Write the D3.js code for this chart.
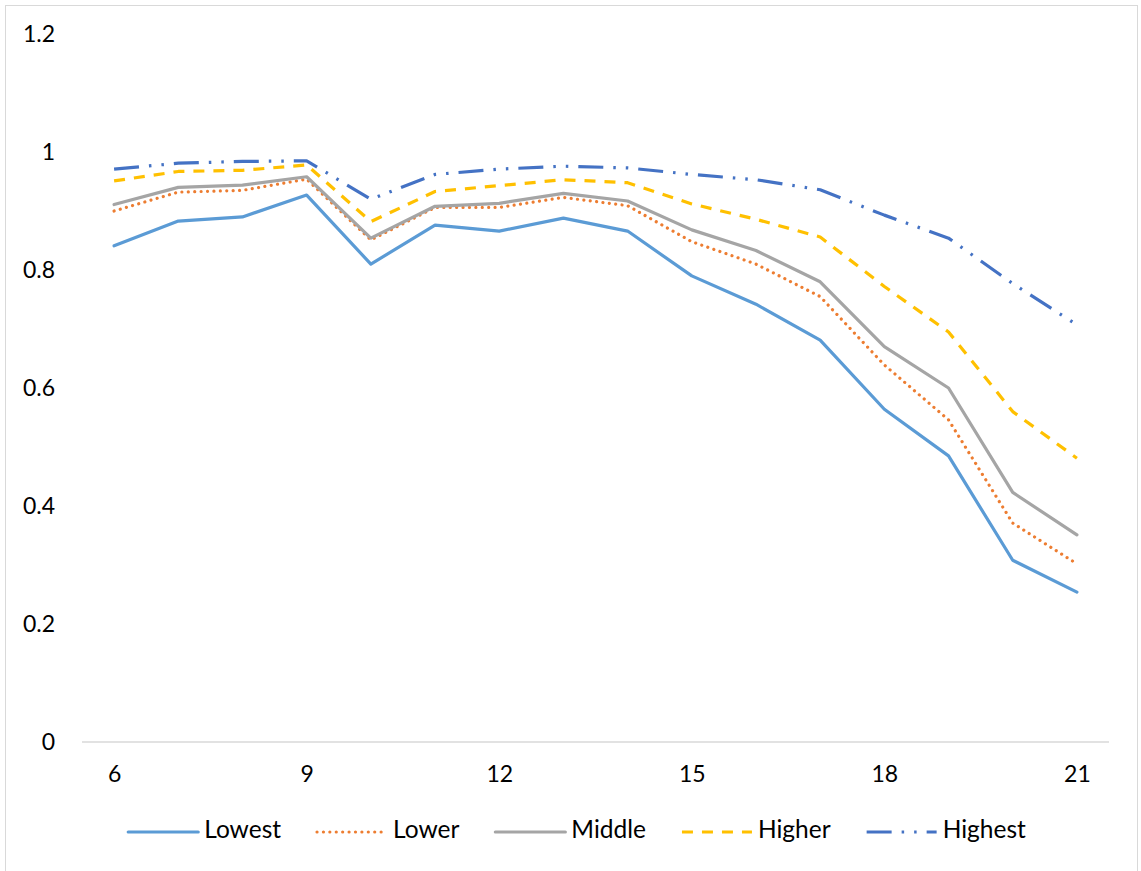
<!DOCTYPE html>
<html>
<head>
<meta charset="utf-8">
<script src="https://cdn.jsdelivr.net/npm/d3@7"></script>
<style>
  html, body { margin: 0; padding: 0; background: #fff; }
  svg { display: block; }
  text { font-family: Lato, "Open Sans", sans-serif; fill: #000; }
</style>
</head>
<body>
<svg id="chart" width="1141" height="871"></svg>
<script>
const ages = [6, 7, 8, 9, 10, 11, 12, 13, 14, 15, 16, 17, 18, 19, 20, 21];
const xTickLabels = [6, 9, 12, 15, 18, 21];
const yTickValues = [0, 0.2, 0.4, 0.6, 0.8, 1, 1.2];

const seriesNames = ["Lowest", "Lower", "Middle", "Higher", "Highest"];
const lowest  = [0.841, 0.883, 0.890, 0.927, 0.810, 0.876, 0.866, 0.888, 0.866, 0.790, 0.742, 0.681, 0.564, 0.485, 0.308, 0.254];
const lower   = [0.900, 0.932, 0.935, 0.954, 0.851, 0.906, 0.906, 0.923, 0.909, 0.848, 0.810, 0.755, 0.639, 0.546, 0.371, 0.302];
const middle  = [0.911, 0.940, 0.944, 0.958, 0.854, 0.908, 0.913, 0.930, 0.917, 0.868, 0.833, 0.780, 0.670, 0.600, 0.423, 0.351];
const higher  = [0.951, 0.967, 0.969, 0.978, 0.882, 0.933, 0.943, 0.953, 0.948, 0.912, 0.886, 0.856, 0.772, 0.695, 0.560, 0.481];
const highest = [0.971, 0.981, 0.984, 0.985, 0.920, 0.962, 0.971, 0.976, 0.973, 0.962, 0.953, 0.936, 0.893, 0.854, 0.777, 0.707];

const seriesValues = [lowest, lower, middle, higher, highest];
const styles = [
  { color: "#5B9BD5", dash: null, cap: "round" },
  { color: "#ED7D31", dash: "0.01 6.4", cap: "round" },
  { color: "#A5A5A5", dash: null, cap: "round" },
  { color: "#FFC000", dash: "11 9", cap: "butt" },
  { color: "#4472C4", dash: "25 10 2.5 10 2.5 10", cap: "butt" }
];

const svg = d3.select("#chart");

// chart border
svg.append("rect")
  .attr("x", 5.5).attr("y", 5.5)
  .attr("width", 1132).attr("height", 880)
  .attr("fill", "#fff").attr("stroke", "#d9d9d9").attr("stroke-width", 1);

const x = d3.scalePoint().domain(ages).range([82, 1109]).padding(0.5);
const y = d3.scaleLinear().domain([0, 1.2]).range([742, 34]);

// y axis labels (no line)
const yAxis = d3.axisLeft(y).tickValues(yTickValues).tickSize(0).tickPadding(0)
  .tickFormat(d => d3.format("~g")(d));
const gy = svg.append("g").attr("transform", "translate(55,0)").call(yAxis);
gy.select(".domain").remove();
gy.selectAll("text").attr("font-size", 23).attr("font-family", "Lato, sans-serif").attr("fill", "#000");

// x axis
const xAxis = d3.axisBottom(x).tickValues(xTickLabels).tickSize(0).tickPadding(0);
const gx = svg.append("g").attr("transform", "translate(0,742)").call(xAxis);
gx.select(".domain").remove();
gx.selectAll("text").attr("dy", null).attr("y", 34).attr("dominant-baseline", "middle")
  .attr("font-size", 23).attr("font-family", "Lato, sans-serif").attr("fill", "#000");
svg.append("line")
  .attr("x1", x.range()[0]).attr("x2", x.range()[1])
  .attr("y1", y(0)).attr("y2", y(0))
  .attr("stroke", "#d9d9d9").attr("stroke-width", 1.5);

// lines
const line = d3.line().x((d, i) => x(ages[i])).y(d => y(d));
seriesValues.forEach((vals, k) => {
  const st = styles[k];
  svg.append("path")
    .datum(vals)
    .attr("d", line)
    .attr("fill", "none")
    .attr("stroke", st.color)
    .attr("stroke-width", 3.2)
    .attr("stroke-linejoin", "round")
    .attr("stroke-linecap", st.cap)
    .attr("stroke-dasharray", st.dash);
});

// legend
const legend = svg.append("g");
const lineLen = 70, textGap = 6, itemGap = 36, legendY = 832;
const items = legend.selectAll("g.item").data(seriesNames).join("g").attr("class", "item");
items.append("line")
  .attr("x1", 0).attr("x2", lineLen).attr("y1", 0).attr("y2", 0)
  .attr("stroke", (d, i) => styles[i].color)
  .attr("stroke-width", 3.2)
  .attr("stroke-linecap", (d, i) => styles[i].cap)
  .attr("stroke-dasharray", (d, i) => styles[i].dash);
items.append("text")
  .attr("x", lineLen + textGap).attr("y", 0)
  .attr("dominant-baseline", "middle")
  .attr("font-size", 24.5)
  .text(d => d);
let widths = [];
items.each(function () { widths.push(d3.select(this).select("text").node().getComputedTextLength()); });
const total = widths.reduce((a, w) => a + lineLen + textGap + w, 0) + itemGap * (widths.length - 1);
let cx = 577 - total / 2;
items.each(function (d, i) {
  d3.select(this).attr("transform", `translate(${cx},${legendY})`);
  cx += lineLen + textGap + widths[i] + itemGap;
});
</script>
</body>
</html>
